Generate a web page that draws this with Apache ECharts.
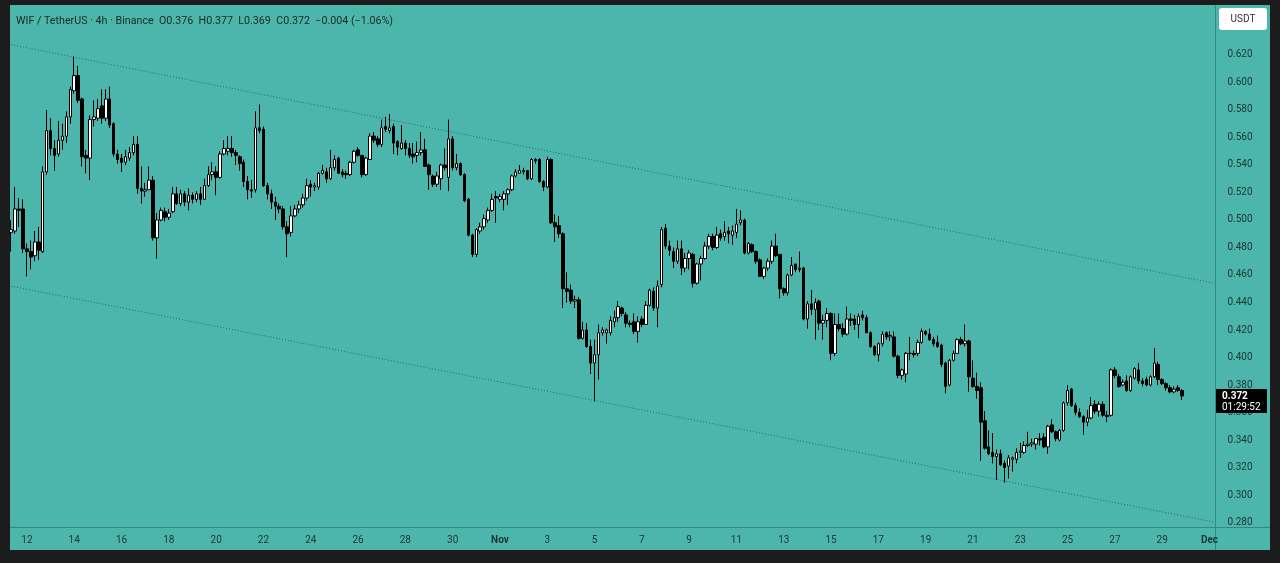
<!DOCTYPE html>
<html>
<head>
<meta charset="utf-8">
<script src="https://cdn.jsdelivr.net/npm/echarts@6/dist/echarts.min.js"></script>
<style>
html,body{margin:0;padding:0;background:#1c1c1c;overflow:hidden;width:1280px;height:563px}
#panel{position:absolute;left:10px;top:5px;width:1260px;height:545px;background:#4db6ac}
#xstrip{position:absolute;left:10px;top:527px;width:1260px;height:0;border-top:1px solid #33897f}
#ystrip{position:absolute;left:1215px;top:5px;width:0;height:545px;border-left:1px solid #33897f}
#chart{position:absolute;left:0;top:0;width:1280px;height:563px}
</style>
</head>
<body>
<div id="panel"></div>
<div id="xstrip"></div>
<div id="ystrip"></div>
<div id="chart"></div>
<script>
// ---- data (4h candles, WIF/USDT) ----
const opens = [
0.491,0.492,0.508,0.508,0.479,0.477,0.474,0.484,0.477,0.535,
0.565,0.552,0.548,0.558,0.561,0.575,0.594,0.605,0.588,0.547,
0.545,0.573,0.574,0.583,0.574,0.588,0.570,0.548,0.545,0.542,
0.545,0.549,0.555,0.523,0.521,0.522,0.529,0.487,0.500,0.506,
0.502,0.506,0.519,0.512,0.519,0.513,0.518,0.515,0.519,0.515,
0.525,0.533,0.535,0.531,0.548,0.550,0.552,0.549,0.546,0.542,
0.528,0.522,0.522,0.567,0.566,0.525,0.519,0.513,0.510,0.508,
0.495,0.491,0.503,0.508,0.511,0.516,0.526,0.524,0.524,0.534,
0.535,0.530,0.538,0.545,0.535,0.534,0.533,0.542,0.551,0.547,
0.533,0.544,0.561,0.559,0.555,0.568,0.565,0.568,0.557,0.552,
0.556,0.552,0.548,0.547,0.549,0.551,0.540,0.532,0.526,0.530,
0.540,0.531,0.559,0.538,0.541,0.533,0.515,0.489,0.475,0.492,
0.495,0.500,0.507,0.517,0.515,0.515,0.519,0.522,0.532,0.534,
0.535,0.536,0.530,0.544,0.544,0.528,0.524,0.544,0.498,0.496,
0.490,0.450,0.449,0.441,0.442,0.414,0.420,0.408,0.396,0.402,
0.418,0.418,0.418,0.426,0.429,0.436,0.431,0.425,0.426,0.419,
0.428,0.424,0.438,0.448,0.436,0.453,0.494,0.481,0.477,0.470,
0.479,0.465,0.472,0.475,0.454,0.468,0.472,0.481,0.488,0.480,
0.490,0.488,0.492,0.489,0.491,0.498,0.500,0.476,0.482,0.477,
0.471,0.459,0.465,0.470,0.481,0.475,0.450,0.447,0.460,0.468,
0.464,0.465,0.428,0.439,0.435,0.441,0.425,0.427,0.432,0.403,
0.424,0.421,0.417,0.428,0.428,0.424,0.431,0.429,0.418,0.408,
0.402,0.410,0.418,0.415,0.415,0.401,0.387,0.388,0.403,0.403,
0.403,0.411,0.419,0.417,0.413,0.411,0.409,0.396,0.380,0.398,
0.403,0.413,0.410,0.412,0.385,0.379,0.378,0.354,0.335,0.331,
0.328,0.330,0.323,0.321,0.326,0.326,0.331,0.331,0.336,0.337,
0.337,0.341,0.342,0.335,0.351,0.346,0.340,0.347,0.367,0.377,
0.365,0.360,0.357,0.353,0.356,0.366,0.361,0.366,0.358,0.358,
0.391,0.386,0.380,0.383,0.376,0.385,0.391,0.383,0.384,0.380,
0.386,0.395,0.384,0.381,0.378,0.375,0.378,0.376
];
const closes = [
0.493,0.508,0.507,0.479,0.477,0.473,0.484,0.478,0.535,0.565,
0.552,0.547,0.558,0.561,0.575,0.595,0.605,0.587,0.546,0.545,
0.573,0.575,0.581,0.574,0.588,0.569,0.548,0.544,0.542,0.546,
0.549,0.555,0.523,0.521,0.522,0.529,0.487,0.500,0.507,0.502,
0.505,0.519,0.512,0.519,0.513,0.518,0.515,0.519,0.515,0.525,
0.533,0.535,0.531,0.548,0.552,0.552,0.549,0.547,0.541,0.528,
0.522,0.521,0.567,0.565,0.525,0.519,0.513,0.510,0.508,0.495,
0.490,0.503,0.508,0.511,0.516,0.525,0.524,0.525,0.534,0.536,
0.530,0.538,0.544,0.534,0.533,0.533,0.542,0.550,0.547,0.533,
0.545,0.561,0.558,0.555,0.567,0.566,0.567,0.556,0.553,0.556,
0.552,0.547,0.546,0.549,0.551,0.539,0.533,0.526,0.532,0.540,
0.538,0.559,0.538,0.541,0.533,0.514,0.489,0.475,0.493,0.495,
0.501,0.507,0.515,0.516,0.517,0.519,0.522,0.532,0.535,0.536,
0.536,0.530,0.544,0.543,0.528,0.524,0.544,0.498,0.495,0.490,
0.450,0.448,0.441,0.442,0.414,0.420,0.408,0.396,0.402,0.418,
0.420,0.420,0.427,0.429,0.437,0.432,0.425,0.424,0.419,0.426,
0.424,0.438,0.449,0.436,0.452,0.493,0.481,0.478,0.470,0.479,
0.465,0.472,0.476,0.454,0.468,0.472,0.481,0.488,0.480,0.489,
0.487,0.491,0.490,0.492,0.497,0.500,0.476,0.483,0.477,0.470,
0.459,0.465,0.470,0.481,0.474,0.450,0.447,0.460,0.467,0.464,
0.465,0.428,0.439,0.435,0.440,0.425,0.427,0.432,0.403,0.424,
0.421,0.417,0.428,0.427,0.424,0.430,0.429,0.418,0.408,0.402,
0.410,0.417,0.415,0.416,0.401,0.387,0.391,0.403,0.403,0.402,
0.411,0.419,0.417,0.413,0.410,0.408,0.395,0.379,0.398,0.403,
0.413,0.410,0.412,0.386,0.379,0.376,0.353,0.334,0.330,0.328,
0.330,0.322,0.320,0.327,0.327,0.331,0.332,0.336,0.337,0.338,
0.341,0.340,0.335,0.350,0.346,0.341,0.347,0.367,0.376,0.365,
0.360,0.357,0.353,0.356,0.365,0.361,0.366,0.358,0.357,0.391,
0.387,0.379,0.382,0.376,0.386,0.392,0.383,0.381,0.380,0.386,
0.396,0.384,0.381,0.378,0.375,0.377,0.376,0.372
];
const lows = [
0.477,0.490,0.495,0.476,0.459,0.464,0.470,0.471,0.476,0.533,
0.547,0.536,0.546,0.551,0.556,0.570,0.592,0.585,0.539,0.534,
0.529,0.568,0.572,0.570,0.572,0.567,0.546,0.541,0.535,0.540,
0.543,0.547,0.519,0.512,0.517,0.522,0.485,0.472,0.499,0.499,
0.500,0.505,0.511,0.510,0.510,0.507,0.512,0.513,0.511,0.515,
0.524,0.529,0.518,0.530,0.547,0.547,0.546,0.540,0.536,0.524,
0.515,0.516,0.520,0.563,0.524,0.515,0.508,0.500,0.505,0.493,
0.473,0.488,0.502,0.505,0.509,0.514,0.517,0.521,0.522,0.533,
0.527,0.529,0.536,0.534,0.531,0.530,0.532,0.541,0.546,0.531,
0.532,0.544,0.556,0.553,0.553,0.564,0.563,0.548,0.547,0.551,
0.547,0.545,0.541,0.542,0.547,0.539,0.522,0.524,0.524,0.522,
0.536,0.521,0.536,0.536,0.532,0.513,0.488,0.473,0.473,0.490,
0.493,0.498,0.506,0.498,0.513,0.507,0.511,0.521,0.531,0.534,
0.533,0.529,0.529,0.541,0.527,0.521,0.523,0.497,0.484,0.487,
0.436,0.440,0.439,0.436,0.413,0.413,0.407,0.388,0.368,0.384,
0.416,0.410,0.416,0.422,0.426,0.430,0.422,0.422,0.417,0.411,
0.422,0.424,0.437,0.434,0.422,0.451,0.479,0.474,0.465,0.468,
0.460,0.462,0.464,0.451,0.453,0.456,0.471,0.479,0.478,0.479,
0.485,0.485,0.483,0.482,0.487,0.496,0.475,0.475,0.476,0.468,
0.459,0.457,0.463,0.468,0.473,0.443,0.445,0.445,0.459,0.462,
0.462,0.427,0.421,0.431,0.413,0.420,0.413,0.422,0.398,0.401,
0.419,0.415,0.416,0.423,0.420,0.414,0.427,0.418,0.407,0.401,
0.397,0.408,0.413,0.412,0.400,0.385,0.384,0.382,0.398,0.400,
0.401,0.410,0.416,0.412,0.408,0.407,0.393,0.374,0.379,0.397,
0.403,0.409,0.408,0.375,0.378,0.370,0.325,0.333,0.329,0.323,
0.311,0.321,0.309,0.312,0.317,0.323,0.327,0.330,0.335,0.335,
0.333,0.336,0.334,0.330,0.345,0.339,0.339,0.346,0.365,0.364,
0.358,0.356,0.344,0.350,0.355,0.359,0.357,0.357,0.353,0.357,
0.385,0.378,0.379,0.375,0.375,0.384,0.381,0.379,0.379,0.379,
0.385,0.380,0.380,0.376,0.374,0.374,0.375,0.369
];
const highs = [
0.500,0.524,0.516,0.515,0.483,0.485,0.492,0.495,0.539,0.580,
0.574,0.558,0.572,0.570,0.579,0.597,0.619,0.612,0.589,0.551,
0.576,0.587,0.588,0.595,0.595,0.597,0.571,0.551,0.548,0.551,
0.553,0.561,0.561,0.539,0.527,0.539,0.532,0.505,0.509,0.509,
0.508,0.524,0.524,0.522,0.521,0.523,0.520,0.521,0.524,0.530,
0.539,0.542,0.539,0.550,0.558,0.561,0.561,0.551,0.547,0.544,
0.532,0.529,0.579,0.584,0.568,0.527,0.522,0.517,0.512,0.510,
0.499,0.510,0.511,0.514,0.519,0.530,0.529,0.527,0.535,0.540,
0.538,0.551,0.547,0.546,0.537,0.536,0.543,0.551,0.553,0.547,
0.546,0.563,0.564,0.561,0.573,0.575,0.577,0.570,0.558,0.569,
0.558,0.556,0.556,0.557,0.564,0.559,0.541,0.533,0.535,0.541,
0.552,0.573,0.561,0.548,0.542,0.534,0.516,0.490,0.494,0.498,
0.504,0.509,0.519,0.521,0.519,0.521,0.523,0.533,0.537,0.540,
0.538,0.536,0.545,0.545,0.545,0.529,0.546,0.545,0.504,0.503,
0.491,0.462,0.453,0.445,0.444,0.426,0.425,0.413,0.413,0.424,
0.422,0.421,0.430,0.434,0.441,0.437,0.433,0.427,0.432,0.430,
0.430,0.441,0.450,0.451,0.456,0.495,0.497,0.485,0.480,0.485,
0.485,0.476,0.478,0.476,0.469,0.474,0.484,0.490,0.490,0.495,
0.493,0.499,0.495,0.496,0.508,0.507,0.501,0.484,0.483,0.478,
0.472,0.466,0.472,0.485,0.490,0.475,0.451,0.461,0.473,0.468,
0.477,0.466,0.441,0.449,0.443,0.442,0.431,0.436,0.433,0.432,
0.432,0.425,0.437,0.432,0.431,0.432,0.434,0.431,0.419,0.409,
0.411,0.419,0.419,0.419,0.419,0.402,0.392,0.404,0.415,0.405,
0.413,0.421,0.420,0.421,0.415,0.416,0.410,0.397,0.399,0.405,
0.414,0.415,0.424,0.413,0.398,0.389,0.382,0.361,0.347,0.345,
0.333,0.333,0.325,0.329,0.328,0.334,0.338,0.339,0.346,0.341,
0.341,0.345,0.345,0.351,0.355,0.347,0.348,0.368,0.380,0.378,
0.367,0.363,0.358,0.362,0.371,0.369,0.368,0.368,0.361,0.392,
0.393,0.388,0.384,0.387,0.387,0.393,0.396,0.385,0.386,0.387,
0.407,0.397,0.385,0.382,0.380,0.379,0.380,0.377
];
// channel trend lines: values at first and last slot
const upperChannel = [0.6275, 0.4541];
const lowerChannel = [0.4519, 0.2804];
// x tick labels (every 2 days, at midnight)
const xTickLabels = ['12','14','16','18','20','22','24','26','28','30','Nov','3','5','7','9','11','13','15','17','19','21','23','25','27','29','Dec'];
const headerText = 'WIF / TetherUS · 4h · Binance  O0.376  H0.377  L0.369  C0.372  −0.004 (−1.06%)';
const countdown = '01:29:52';
const quoteCurrency = 'USDT';

// categories: 4h slots from 11 Oct 08:00 to 1 Dec 04:00
const SLOT_COUNT = 306;
const startMs = Date.UTC(2025, 9, 11, 8);
const categories = [];
for (let i = 0; i < SLOT_COUNT; i++) {
  const d = new Date(startMs + i * 4 * 3600 * 1000);
  categories.push((d.getUTCMonth()+1) + '-' + d.getUTCDate() + ' ' + String(d.getUTCHours()).padStart(2,'0') + ':00');
}
const FIRST_LABEL_SLOT = 4; // 12 Oct 00:00
const LABEL_STEP = 12;      // 2 days

const candleData = opens.map((o, i) => [o, closes[i], lows[i], highs[i]]);

const FONT = 'Roboto, "Noto Sans", sans-serif';
const TXT = '#1b3532';

const chart = echarts.init(document.getElementById('chart'), null, {renderer: 'canvas'});
chart.setOption({
  animation: false,
  backgroundColor: 'transparent',
  title: {
    text: headerText, left: 11, top: 11,
    textStyle: {fontSize: 10.7, fontWeight: 'normal', color: '#172a28', fontFamily: FONT}
  },
  grid: {left: 9.2, top: 5, width: 1206.2, height: 522, containLabel: false},
  xAxis: {
    type: 'category', data: categories, boundaryGap: true,
    axisLine: {show: false}, axisTick: {show: false}, splitLine: {show: false},
    axisLabel: {
      margin: 8, fontSize: 10, color: TXT, fontFamily: FONT,
      interval: (idx) => idx >= FIRST_LABEL_SLOT && (idx - FIRST_LABEL_SLOT) % LABEL_STEP === 0,
      formatter: (val, idx) => {
        const lab = xTickLabels[(idx - FIRST_LABEL_SLOT) / LABEL_STEP];
        if (lab === undefined) return '';
        return isNaN(+lab) ? '{b|' + lab + '}' : lab;
      },
      rich: {b: {fontWeight: 'bold', fontSize: 10, color: TXT, fontFamily: FONT}}
    }
  },
  yAxis: {
    type: 'value', position: 'right', min: 0.27673, max: 0.65636,
    splitNumber: 19, minInterval: 0.02, maxInterval: 0.02,
    axisLine: {show: false}, axisTick: {show: false}, splitLine: {show: false},
    axisLabel: {
      margin: 12, fontSize: 10, color: TXT, fontFamily: FONT,
      showMinLabel: false, showMaxLabel: false,
      formatter: v => (v > 0.63 ? '' : v.toFixed(3))
    }
  },
  series: [
    {
      type: 'candlestick', data: candleData, barWidth: 3, z: 3,
      itemStyle: {color: '#ffffff', color0: '#000000', borderColor: '#000000', borderColor0: '#000000', borderWidth: 1}
    },
    {
      type: 'line', data: [[0, upperChannel[0]], [SLOT_COUNT - 1, upperChannel[1]]],
      symbol: 'none', silent: true, z: 2,
      lineStyle: {color: '#206a63', width: 1, type: [1, 2]}
    },
    {
      type: 'line', data: [[0, lowerChannel[0]], [SLOT_COUNT - 1, lowerChannel[1]]],
      symbol: 'none', silent: true, z: 2,
      lineStyle: {color: '#206a63', width: 1, type: [1, 2]}
    }
  ]
});

const lastClose = closes[closes.length - 1];
const py = chart.convertToPixel({yAxisIndex: 0}, lastClose);
chart.setOption({
  graphic: [
    {type: 'rect', z: 100, shape: {x: 1219, y: 8, width: 48, height: 22, r: 3}, style: {fill: '#ffffff'}},
    {type: 'text', z: 101, x: 1243, y: 19, style: {text: quoteCurrency, fill: '#333', font: '10px ' + FONT, align: 'center', verticalAlign: 'middle'}},
    {type: 'rect', z: 100, shape: {x: 1216, y: py - 7, width: 51, height: 24}, style: {fill: '#000000'}},
    {type: 'text', z: 101, x: 1222, y: py + 0.5, style: {text: lastClose.toFixed(3), fill: '#ffffff', font: 'bold 10px ' + FONT, verticalAlign: 'middle'}},
    {type: 'text', z: 101, x: 1222, y: py + 11.5, style: {text: countdown, fill: '#ffffff', font: '10px ' + FONT, verticalAlign: 'middle'}}
  ]
});
</script>
</body>
</html>
